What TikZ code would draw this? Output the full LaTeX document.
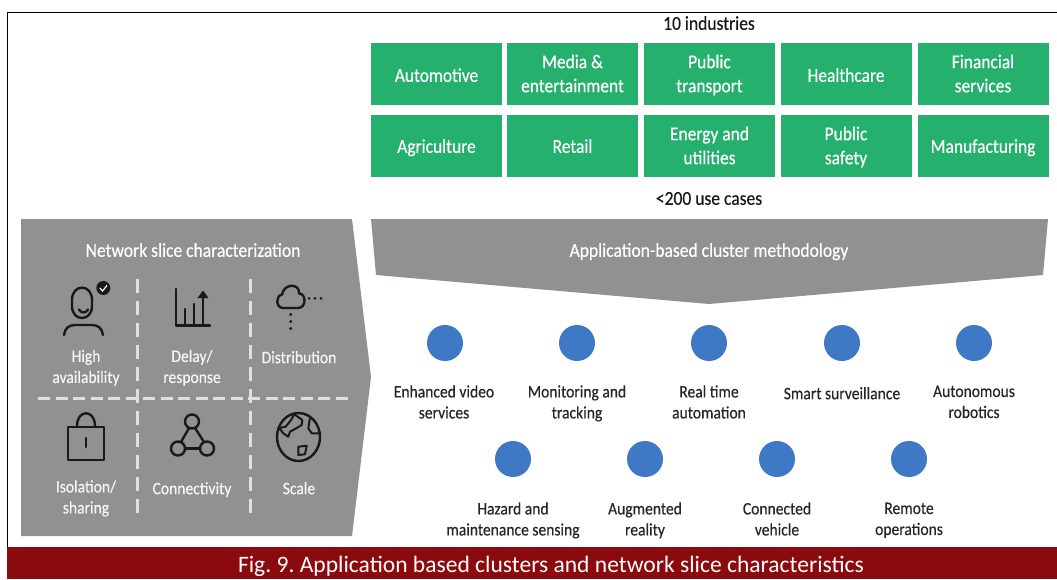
\documentclass[tikz,border=0pt]{standalone}
\usepackage{fontspec}
\setmainfont[FakeStretch=0.89,FakeBold=0.35]{Carlito}
\newfontfamily\capfont{Carlito}
\frenchspacing
\definecolor{panelgray}{HTML}{8F9193}
\definecolor{boxgreen}{HTML}{25B06E}
\definecolor{capred}{HTML}{8A0A0E}
\definecolor{dotblue}{HTML}{3F78C4}
\definecolor{dashgray}{HTML}{DDDFE0}
\definecolor{inkgray}{HTML}{262626}
\tikzset{
  struts/.style={execute at begin node=\strut,execute at end node=\strut},
  boxtext/.style={align=center,text=white,font=\fontsize{19.6}{24}\selectfont,struts,inner sep=0pt},
  dotnode/.style={circle,fill=dotblue,draw=none,minimum size=36pt,inner sep=0pt},
  dotlabel/.style={align=center,text=inkgray,font=\fontsize{17.5}{21}\selectfont,struts},
  iconlabel/.style={align=center,text=white!92!panelgray,font=\fontsize{17.5}{21}\selectfont,struts},
  headtext/.style={text=black!90,font=\fontsize{19.7}{24}\selectfont,struts},
  paneltitle/.style={text=white,font=\fontsize{19.7}{24}\selectfont,struts},
  icon/.style={draw=black!90,line width=2.4pt,line cap=round,line join=round},
  thinicon/.style={icon,line width=2pt},
  sepv/.style={draw=dashgray,line width=3pt,dash pattern=on 14pt off 8pt},
  seph/.style={draw=dashgray,line width=3pt,dash pattern=on 12pt off 5.5pt}
}
\begin{document}
\begin{tikzpicture}[x=1pt,y=-1pt]
\useasboundingbox (0,0) rectangle (1057,579);
\fill[white] (0,0) rectangle (1057,579);
\draw[black,line width=1pt] (7,547) -- (7,12) -- (1057,12);
\fill[capred] (7,547) rectangle (1057,579);
\node[text=white,font=\capfont\fontsize{23.55}{26}\selectfont,struts] (cap) at (551,567) {Fig. 9. Application based clusters and network slice characteristics};

\node[headtext] (ind) at (709,25) {10 industries};
\foreach \n/\x/\y in {b1/436.5/74,b2/572.5/74,b3/709.5/74,b4/846/74,b5/983/74,b6/436.5/146,b7/572.5/146,b8/709.5/146,b9/846/146,b10/983/146}
  \node[fill=boxgreen,minimum width=131pt,minimum height=62pt,inner sep=0pt] (\n) at (\x,\y) {};
\node[boxtext] (tb1) at (436.5,77) {Automotive};
\node[boxtext] (tb2) at (572.5,77) {Media \&\\entertainment};
\node[boxtext] (tb3) at (709.5,77) {Public\\transport};
\node[boxtext] (tb4) at (846,77) {Healthcare};
\node[boxtext] (tb5) at (983,77) {Financial\\services};
\node[boxtext] (tb6) at (436.5,148) {Agriculture};
\node[boxtext] (tb7) at (572.5,148) {Retail};
\node[boxtext] (tb8) at (709.5,149) {Energy and\\utilities};
\node[boxtext] (tb9) at (846,149) {Public\\safety};
\node[boxtext] (tb10) at (983,148) {Manufacturing};
\node[headtext] (use) at (709,200) {<200 use cases};

\fill[panelgray] (371,219) -- (1048,219) -- (1043,275) -- (709,304) -- (376,275) -- cycle;
\node[paneltitle] (meth) at (709,252) {Application-based cluster methodology};

\fill[panelgray] (21,219) -- (352,219) -- (371,377) -- (352,536) -- (21,536) -- cycle;
\node[paneltitle] (char) at (193,252) {Network slice characterization};

\draw[sepv] (137,279) -- (137,516);
\draw[sepv] (250,279) -- (250,516);
\draw[seph] (38,398) -- (349,398);

\node[iconlabel] (l1) at (86,369.5) {High\\availability};
\node[iconlabel] (l2) at (192,369.5) {Delay/\\response};
\node[iconlabel] (l3) at (299,359) {Distribution};
\node[iconlabel] (l4) at (86,500) {Isolation/\\sharing};
\node[iconlabel] (l5) at (192,490) {Connectivity};
\node[iconlabel] (l6) at (299,490) {Scale};

% high availability
\draw[icon] (72,300) .. controls (72,283.5) and (92,283.5) .. (92,300) -- (92,306) .. controls (92,322) and (72,322) .. (72,306) -- cycle;
\draw[icon] (79,309.5) .. controls (81,313.5) and (86,313.5) .. (88,309.5);
\draw[icon] (64,335) .. controls (65,328) and (69,325) .. (75,325) -- (92,325) .. controls (98,325) and (102,328) .. (103,335);
\fill[black!90] (103.3,288) circle (7);
\draw[white,line width=1.2pt] (100,288) -- (102.5,291) -- (107,285.5);

% delay
\draw[icon] (176,289) -- (176,325.5) -- (210,325.5);
\draw[icon] (185,325) -- (185,309);
\draw[icon] (194,325) -- (194,304);
\draw[icon] (203,325) -- (203,296);
\fill[black!90] (197.5,298) -- (203,290.5) -- (208.5,298) -- cycle;

% distribution
\draw[icon] (283,308) .. controls (276,308) and (275,296) .. (282,294.5) .. controls (284,283) and (300,283) .. (299,293.5) .. controls (306,293) and (307,308) .. (298,308) -- cycle;
\fill[black!90] (290.7,314.5) circle (1.6) (290.7,321.5) circle (1.6) (290.7,328.5) circle (1.6);
\fill[black!90] (309,298.3) circle (1.5) (315,298.3) circle (1.5) (321,298.3) circle (1.5);

% lock
\draw[icon] (68,427) rectangle (104,460);
\draw[icon] (77,426) .. controls (77,409) and (95,409) .. (95,426);
\draw[icon,line width=2.8pt] (86,438) -- (86,447);

% connectivity
\draw[icon] (192,421.5) circle (7);
\draw[icon] (178,448.5) circle (7);
\draw[icon] (207,448.5) circle (7);
\draw[icon] (189,428) -- (181,442);
\draw[icon] (195,428) -- (204,442);
\draw[icon] (185,448.5) -- (200,448.5);

% scale
\draw[icon] (298.5,437) ellipse (21.5 and 24);
\draw[thinicon] (279,428) -- (285.7,426.7) -- (291,420) -- (294.3,414.3) -- (302.3,420) -- (301.7,425) -- (295,429) -- (290,431.7) -- (288.3,436.7) -- (283.3,433.3) -- cycle;
\draw[thinicon] (310,418) -- (308.3,428.3) -- (311.7,433.3) -- (319,433.3);
\draw[thinicon] (298.3,446.7) -- (306.7,445.7) -- (305,454.3) -- (298.3,455) -- cycle;

\node[dotnode] (c1) at (445,343) {};
\node[dotnode] (c2) at (577,343) {};
\node[dotnode] (c3) at (709,343) {};
\node[dotnode] (c4) at (842,343) {};
\node[dotnode] (c5) at (974,343) {};
\node[dotnode] (c6) at (513,459) {};
\node[dotnode] (c7) at (645,459) {};
\node[dotnode] (c8) at (777,459) {};
\node[dotnode] (c9) at (909,459) {};

\node[dotlabel] (t1) at (444,405) {Enhanced video\\services};
\node[dotlabel] (t2) at (577,405) {Monitoring and\\tracking};
\node[dotlabel] (t3) at (709,405) {Real time\\automation};
\node[dotlabel] (t4) at (842,395) {Smart surveillance};
\node[dotlabel] (t5) at (974,405) {Autonomous\\robotics};
\node[dotlabel] (t6) at (513,522) {Hazard and\\maintenance sensing};
\node[dotlabel] (t7) at (645,522) {Augmented\\reality};
\node[dotlabel] (t8) at (777,522) {Connected\\vehicle};
\node[dotlabel] (t9) at (909,522) {Remote\\operations};
\end{tikzpicture}
\end{document}
